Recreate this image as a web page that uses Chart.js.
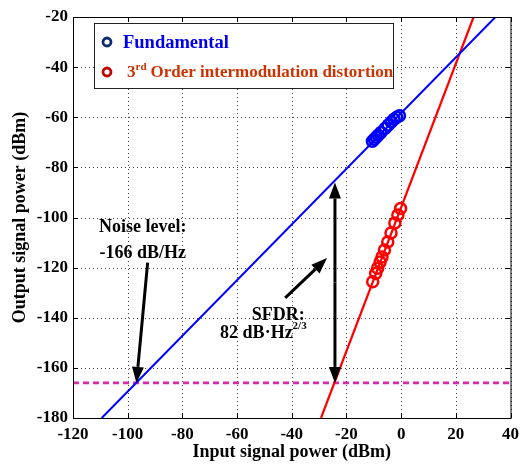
<!DOCTYPE html>
<html>
<head>
<meta charset="utf-8">
<script src="https://cdn.jsdelivr.net/npm/chart.js@4.4.1/dist/chart.umd.min.js"></script>
<style>
  html, body { margin: 0; padding: 0; background: #fff; }
  #wrap { width: 525px; height: 464px; }
</style>
</head>
<body>
<div id="wrap"><canvas id="grafico"></canvas></div>
<script>
// --- datos ---
const xTicks = [-120, -100, -80, -60, -40, -20, 0, 20, 40];
const yTicks = [-180, -160, -140, -120, -100, -80, -60, -40, -20];

// puntos medidos (fundamental)
const fundX = [-10.5, -9.8, -9.1, -8.4, -7.4, -5.8, -4.7, -3.6, -2.6, -1.6, -0.6];
const fundY = [-69.6, -68.8, -68.0, -67.2, -66.1, -64.4, -63.1, -61.9, -60.8, -60.0, -59.4];

// puntos medidos (IMD3)
const imdX = [-10.4, -9.3, -8.6, -7.7, -7.0, -6.1, -4.9, -3.7, -2.3, -1.2, -0.2];
const imdY = [-125.6, -122.3, -120.2, -117.8, -115.8, -113.0, -109.8, -106.2, -102.2, -99.0, -96.4];

// rectas de ajuste (extremos sobre los ejes)
const fitFundX = [-109.5, 34.5];
const fitFundY = [-180, -20];
const fitImdX = [-29.3, 26.5];
const fitImdY = [-180, -20];

const noiseLevel = -166;
const sfdrX = -24.2;
const sfdrTop = -86;

const FUENTE = '"Liberation Serif", "Times New Roman", serif';

function pares(xs, ys) {
    return xs.map((v, i) => ({ x: v, y: ys[i] }));
}

function flecha(ctx, x1, y1, x2, y2) {
    const ang = Math.atan2(y2 - y1, x2 - x1);
    const largo = 16, ancho = 6;
    const bx = x2 - largo * Math.cos(ang), by = y2 - largo * Math.sin(ang);
    ctx.beginPath();
    ctx.moveTo(x1, y1);
    ctx.lineTo(bx, by);
    ctx.stroke();
    ctx.beginPath();
    ctx.moveTo(x2, y2);
    ctx.lineTo(bx + ancho * Math.sin(ang), by - ancho * Math.cos(ang));
    ctx.lineTo(bx - ancho * Math.sin(ang), by + ancho * Math.cos(ang));
    ctx.closePath();
    ctx.fill();
}

// rejilla punteada (estilo MATLAB)
const rejilla = {
    id: 'rejilla',
    beforeDatasetsDraw(chart) {
        const { ctx, chartArea: a, scales: { x, y } } = chart;
        ctx.save();
        ctx.strokeStyle = '#444';
        ctx.lineWidth = 1;
        ctx.setLineDash([1, 3]);
        ctx.beginPath();
        xTicks.forEach(v => {
            const p = Math.round(x.getPixelForValue(v)) + 0.5;
            ctx.moveTo(p, a.top); ctx.lineTo(p, a.bottom);
        });
        yTicks.forEach(v => {
            const p = Math.round(y.getPixelForValue(v)) + 0.5;
            ctx.moveTo(a.left, p); ctx.lineTo(a.right, p);
        });
        ctx.stroke();
        ctx.restore();
    }
};

// marco, ticks interiores, leyenda y anotaciones
const overlay = {
    id: 'overlay',
    afterDatasetsDraw(chart) {
        const { ctx, chartArea: a, scales: { x, y } } = chart;
        const px = v => x.getPixelForValue(v);
        const py = v => y.getPixelForValue(v);
        ctx.save();

        // marco
        ctx.strokeStyle = '#000';
        ctx.lineWidth = 1;
        ctx.setLineDash([]);
        ctx.strokeRect(a.left + 0.5, a.top + 0.5, a.right - a.left, a.bottom - a.top);
        ctx.beginPath();
        xTicks.forEach(v => {
            const p = Math.round(px(v)) + 0.5;
            ctx.moveTo(p, a.bottom); ctx.lineTo(p, a.bottom - 5);
            ctx.moveTo(p, a.top); ctx.lineTo(p, a.top + 5);
        });
        yTicks.forEach(v => {
            const p = Math.round(py(v)) + 0.5;
            ctx.moveTo(a.left, p); ctx.lineTo(a.left + 5, p);
            ctx.moveTo(a.right, p); ctx.lineTo(a.right - 5, p);
        });
        ctx.stroke();

        // leyenda
        const lx = a.left + 21, ly = a.top + 6;
        ctx.fillStyle = '#fff';
        ctx.fillRect(lx, ly, 299, 65);
        ctx.strokeStyle = '#222';
        ctx.strokeRect(lx + 0.5, ly + 0.5, 299, 65);

        ctx.lineWidth = 2.8;
        ctx.strokeStyle = '#0b2a6b';
        ctx.beginPath(); ctx.arc(lx + 13, ly + 19, 4, 0, Math.PI * 2); ctx.stroke();
        ctx.strokeStyle = '#c00000';
        ctx.beginPath(); ctx.arc(lx + 13, ly + 49, 4, 0, Math.PI * 2); ctx.stroke();

        ctx.textBaseline = 'middle';
        ctx.textAlign = 'left';
        ctx.font = 'bold 18.5px ' + FUENTE;
        ctx.fillStyle = '#0000ee';
        ctx.fillText('Fundamental', lx + 29, ly + 20);

        ctx.fillStyle = '#cc3300';
        ctx.font = 'bold 17px ' + FUENTE;
        let tx = lx + 33;
        ctx.fillText('3', tx, ly + 50);
        tx += ctx.measureText('3').width;
        ctx.font = 'bold 11px ' + FUENTE;
        ctx.fillText('rd', tx, ly + 44);
        tx += ctx.measureText('rd').width + 4;
        ctx.font = 'bold 17px ' + FUENTE;
        ctx.fillText('Order intermodulation distortion', tx, ly + 50);

        // anotaciones
        ctx.fillStyle = '#000';
        ctx.strokeStyle = '#000';
        ctx.lineWidth = 3;
        ctx.textAlign = 'center';
        ctx.font = 'bold 18px ' + FUENTE;
        ctx.fillText('Noise level:', px(-94.5), py(-103.8));
        ctx.fillText('-166 dB/Hz', px(-94.5), py(-114.3));
        flecha(ctx, px(-92.7), py(-118), px(-96.8), py(noiseLevel));

        // SFDR doble flecha
        flecha(ctx, px(sfdrX), py(-126), px(sfdrX), py(sfdrTop));
        flecha(ctx, px(sfdrX), py(-126), px(sfdrX), py(noiseLevel));
        flecha(ctx, px(-42.4), py(-132.1), px(-27.1), py(-116.2));

        ctx.fillText('SFDR:', px(-44.9), py(-138.9));
        ctx.textAlign = 'left';
        ctx.font = 'bold 18px ' + FUENTE;
        let sx = px(-66.2);
        const sy = py(-146.2);
        ctx.fillText('82 dB\u00B7Hz', sx, sy);
        sx += ctx.measureText('82 dB\u00B7Hz').width;
        ctx.font = 'bold 11px ' + FUENTE;
        ctx.fillText('2/3', sx, sy - 7);

        ctx.restore();
    }
};

const datasets = [
    {
        label: 'Fundamental',
        data: pares(fundX, fundY),
        borderColor: '#0000ff',
        backgroundColor: 'transparent',
        pointRadius: 5.5,
        pointBorderWidth: 2.5,
        pointHoverRadius: 5.5,
        showLine: false,
        order: 1
    },
    {
        label: '3rd Order intermodulation distortion',
        data: pares(imdX, imdY),
        borderColor: '#ff0000',
        backgroundColor: 'transparent',
        pointRadius: 5.5,
        pointBorderWidth: 2.5,
        pointHoverRadius: 5.5,
        showLine: false,
        order: 1
    },
    {
        label: 'fit fundamental',
        data: pares(fitFundX, fitFundY),
        borderColor: '#0000ff',
        borderWidth: 2,
        pointRadius: 0,
        showLine: true,
        order: 2
    },
    {
        label: 'fit IMD3',
        data: pares(fitImdX, fitImdY),
        borderColor: '#ff0000',
        borderWidth: 2.2,
        pointRadius: 0,
        showLine: true,
        order: 2
    },
    {
        label: 'noise',
        data: [{ x: xTicks[0], y: noiseLevel }, { x: xTicks[xTicks.length - 1], y: noiseLevel }],
        borderColor: '#d62aa8',
        borderWidth: 2.8,
        borderDash: [6, 4],
        pointRadius: 0,
        showLine: true,
        order: 3
    }
];

new Chart(document.getElementById('grafico'), {
    type: 'scatter',
    data: { datasets: datasets },
    options: {
        responsive: true,
        maintainAspectRatio: false,
        animation: false,
        layout: { padding: { left: 0, right: 13, top: 17, bottom: 0 } },
        plugins: {
            legend: { display: false },
            tooltip: { enabled: false }
        },
        scales: {
            x: {
                min: -120, max: 40,
                afterBuildTicks: s => { s.ticks = xTicks.map(v => ({ value: v })); },
                afterFit: s => { s.height = 46; },
                grid: { display: false, drawTicks: false },
                border: { display: false },
                ticks: {
                    padding: 6,
                    color: '#000',
                    maxRotation: 0,
                    font: { family: FUENTE, weight: 'bold', size: 17 }
                },
                title: {
                    display: true,
                    text: 'Input signal power (dBm)',
                    color: '#000',
                    padding: { top: 0, bottom: 1 },
                    font: { family: FUENTE, weight: 'bold', size: 18 }
                }
            },
            y: {
                min: -180, max: -20,
                afterBuildTicks: s => { s.ticks = yTicks.map(v => ({ value: v })); },
                afterFit: s => { s.width = 73; },
                grid: { display: false, drawTicks: false },
                border: { display: false },
                ticks: {
                    padding: 5,
                    color: '#000',
                    font: { family: FUENTE, weight: 'bold', size: 17 }
                },
                title: {
                    display: true,
                    text: 'Output signal power (dBm)',
                    color: '#000',
                    padding: { top: 10, bottom: 0 },
                    font: { family: FUENTE, weight: 'bold', size: 18 }
                }
            }
        }
    },
    plugins: [rejilla, overlay]
});
</script>
</body>
</html>
